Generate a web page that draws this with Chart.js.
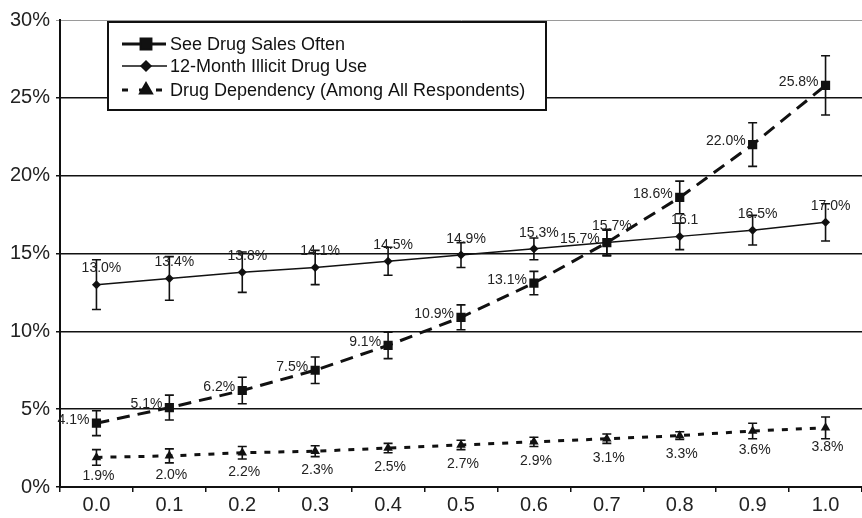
<!DOCTYPE html>
<html>
<head>
<meta charset="utf-8">
<script src="https://cdn.jsdelivr.net/npm/chart.js@4"></script>
<style>
  html, body { margin: 0; padding: 0; background: #fff; overflow: hidden; }
  canvas { display: block; }
</style>
</head>
<body>
<canvas id="chart" width="862" height="518"></canvas>
<script>
/* ---------- data ---------- */
const xLabels = ["0.0", "0.1", "0.2", "0.3", "0.4", "0.5", "0.6", "0.7", "0.8", "0.9", "1.0"];
const yTicks = [0, 5, 10, 15, 20, 25, 30];

const salesValues = [4.1, 5.1, 6.2, 7.5, 9.1, 10.9, 13.1, 15.7, 18.6, 22.0, 25.8];
const salesErrors = [0.8, 0.8, 0.85, 0.85, 0.85, 0.8, 0.75, 0.85, 1.05, 1.4, 1.9];
const salesText = ["4.1%", "5.1%", "6.2%", "7.5%", "9.1%", "10.9%", "13.1%", "15.7%", "18.6%", "22.0%", "25.8%"];

const useValues = [13.0, 13.4, 13.8, 14.1, 14.5, 14.9, 15.3, 15.7, 16.1, 16.5, 17.0];
const useErrors = [1.6, 1.4, 1.3, 1.1, 0.9, 0.8, 0.7, 0.8, 0.85, 0.95, 1.2];
const useText = ["13.0%", "13.4%", "13.8%", "14.1%", "14.5%", "14.9%", "15.3%", "15.7%", "16.1", "16.5%", "17.0%"];

const depValues = [1.9, 2.0, 2.2, 2.3, 2.5, 2.7, 2.9, 3.1, 3.3, 3.6, 3.8];
const depErrors = [0.5, 0.45, 0.4, 0.35, 0.3, 0.3, 0.3, 0.3, 0.25, 0.5, 0.7];
const depText = ["1.9%", "2.0%", "2.2%", "2.3%", "2.5%", "2.7%", "2.9%", "3.1%", "3.3%", "3.6%", "3.8%"];

const FONT = "'Liberation Sans', Arial, sans-serif";

/* ---------- error bars ---------- */
const errorBars = {
  id: "errorBars",
  afterDatasetsDraw(chart) {
    const ctx = chart.ctx;
    const y = chart.scales.y;
    ctx.save();
    ctx.strokeStyle = "#111";
    ctx.lineWidth = 1.6;
    chart.data.datasets.forEach((ds, i) => {
      const meta = chart.getDatasetMeta(i);
      meta.data.forEach((pt, j) => {
        const v = ds.data[j], e = ds.errors[j];
        const top = y.getPixelForValue(v + e);
        const bot = y.getPixelForValue(v - e);
        ctx.beginPath();
        ctx.moveTo(pt.x, top); ctx.lineTo(pt.x, bot);
        ctx.moveTo(pt.x - 4.5, top); ctx.lineTo(pt.x + 4.5, top);
        ctx.moveTo(pt.x - 4.5, bot); ctx.lineTo(pt.x + 4.5, bot);
        ctx.stroke();
      });
    });
    ctx.restore();
  }
};

/* ---------- value labels ---------- */
const valueLabels = {
  id: "valueLabels",
  afterDatasetsDraw(chart) {
    const ctx = chart.ctx;
    ctx.save();
    ctx.font = "14px " + FONT;
    ctx.fillStyle = "#222";
    ctx.textBaseline = "middle";
    chart.data.datasets.forEach((ds, i) => {
      const meta = chart.getDatasetMeta(i);
      meta.data.forEach((pt, j) => {
        const t = ds.texts[j];
        if (ds.labelPos === "left") {
          ctx.textAlign = "right";
          ctx.fillText(t, pt.x - 7, pt.y - 3);
        } else if (ds.labelPos === "above") {
          ctx.textAlign = "center";
          ctx.fillText(t, pt.x + 5, pt.y - 16);
        } else {
          ctx.textAlign = "center";
          ctx.fillText(t, pt.x + 2, pt.y + 19);
        }
      });
    });
    ctx.restore();
  }
};

/* ---------- legend box inside the plot ---------- */
const boxLegend = {
  id: "boxLegend",
  afterDraw(chart) {
    const ctx = chart.ctx;
    const bx = 108, by = 22, bw = 438, bh = 88;
    ctx.save();
    ctx.fillStyle = "#fff";
    ctx.fillRect(bx, by, bw, bh);
    ctx.strokeStyle = "#111";
    ctx.lineWidth = 2;
    ctx.strokeRect(bx, by, bw, bh);
    const rows = [44, 66, 90];
    chart.data.datasets.forEach((ds, i) => {
      const ry = rows[i];
      ctx.strokeStyle = "#111";
      ctx.lineWidth = ds.borderWidth;
      ctx.setLineDash(ds.legendDash);
      ctx.beginPath();
      ctx.moveTo(122, ry); ctx.lineTo(167, ry);
      ctx.stroke();
      ctx.setLineDash([]);
      Chart.helpers.drawPoint(ctx, {
        pointStyle: ds.pointStyle, radius: ds.pointRadius + 0.5, borderWidth: 1
      }, 146, ry);
      ctx.fillStyle = "#111";
      ctx.fill();
      ctx.font = "18px " + FONT;
      ctx.textAlign = "left";
      ctx.textBaseline = "middle";
      ctx.fillText(ds.label, 170, ry + 1);
    });
    ctx.restore();
  }
};

new Chart(document.getElementById("chart"), {
  type: "line",
  data: {
    labels: xLabels,
    datasets: [
      {
        label: "See Drug Sales Often",
        data: salesValues, errors: salesErrors, texts: salesText, labelPos: "left",
        borderColor: "#111", backgroundColor: "#111",
        borderWidth: 3, borderDash: [13, 8], legendDash: [20, 4],
        pointStyle: "rect", pointRadius: 6.5, pointBorderWidth: 0,
        tension: 0
      },
      {
        label: "12-Month Illicit Drug Use",
        data: useValues, errors: useErrors, texts: useText, labelPos: "above",
        borderColor: "#111", backgroundColor: "#111",
        borderWidth: 1.5, borderDash: [], legendDash: [],
        pointStyle: "rectRot", pointRadius: 4.5, pointBorderWidth: 0,
        tension: 0
      },
      {
        label: "Drug Dependency (Among All Respondents)",
        data: depValues, errors: depErrors, texts: depText, labelPos: "below",
        borderColor: "#111", backgroundColor: "#111",
        borderWidth: 3, borderDash: [6, 8], legendDash: [6, 11],
        pointStyle: "triangle", pointRadius: 5.5, pointBorderWidth: 0,
        tension: 0
      }
    ]
  },
  options: {
    responsive: false,
    animation: false,
    layout: { autoPadding: false, padding: { top: 20, right: 0, left: 0, bottom: 0 } },
    plugins: {
      legend: { display: false },
      tooltip: { enabled: false }
    },
    scales: {
      x: {
        offset: true,
        grid: {
          offset: true, drawOnChartArea: false, drawTicks: true,
          tickLength: 5, color: "#111", lineWidth: 1.5
        },
        border: { color: "#111", width: 2 },
        ticks: { color: "#222", font: { size: 20, family: FONT }, padding: 1 },
        afterFit(s) { s.height = 31; s.paddingRight = 0; s.paddingLeft = 0; }
      },
      y: {
        min: 0, max: 30,
        afterBuildTicks(s) { s.ticks = yTicks.map(v => ({ value: v })); },
        grid: {
          color: c => (c.tick && c.tick.value === 30) ? "#9a9a9a" : "#111",
          lineWidth: c => (c.tick && c.tick.value === 30) ? 1 : 1.5,
          tickLength: 4
        },
        border: { color: "#111", width: 2 },
        ticks: {
          color: "#222", font: { size: 20, family: FONT }, padding: 6,
          callback: v => v + "%"
        },
        afterFit(s) { s.width = 60; s.paddingTop = 0; s.paddingBottom = 0; }
      }
    }
  },
  plugins: [errorBars, valueLabels, boxLegend]
});
</script>
</body>
</html>
